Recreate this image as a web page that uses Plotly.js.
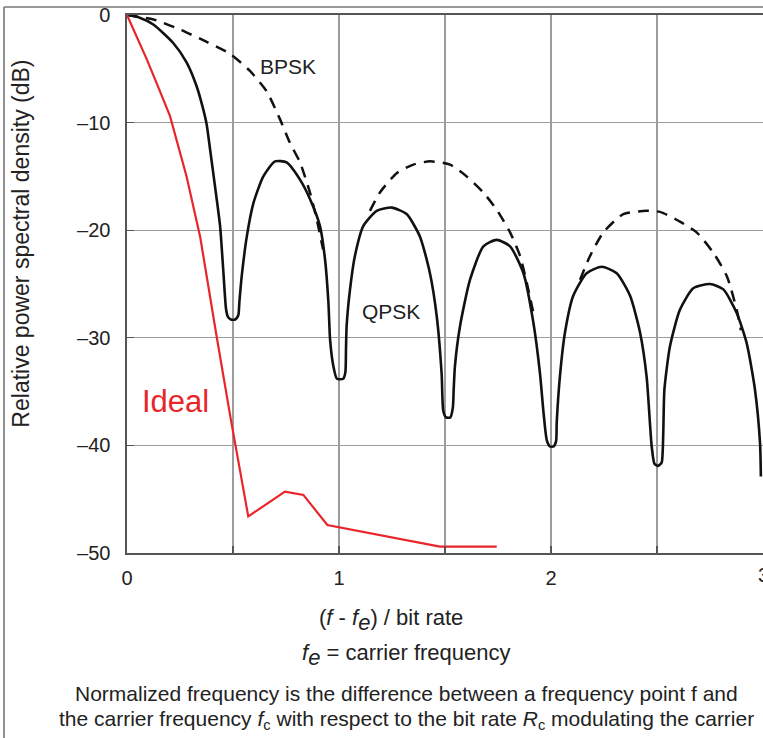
<!DOCTYPE html>
<html>
<head>
<meta charset="utf-8">
<script src="https://cdn.plot.ly/plotly-3.0.1.min.js"></script>
<style>html,body{margin:0;padding:0;background:#fff;}#chart{width:763px;height:738px;}</style>
</head>
<body>
<div id="chart"></div>
<script>
// QPSK spectrum (solid black)
const qpskF = [0,0.06,0.124,0.218,0.281,0.328,0.36,0.376,0.392,0.415,0.439,0.454,0.467,0.475,0.49,0.51,0.525,0.53,0.541,0.565,0.596,0.643,0.698,0.753,0.816,0.863,0.91,0.934,0.95,0.958,0.973,0.99,1.02,1.03,1.033,1.036,1.052,1.075,1.115,1.178,1.249,1.319,1.382,1.429,1.461,1.484,1.492,1.505,1.525,1.537,1.541,1.547,1.571,1.618,1.681,1.744,1.807,1.87,1.917,1.948,1.965,1.98,1.995,2.012,2.024,2.027,2.042,2.066,2.105,2.168,2.239,2.31,2.373,2.42,2.451,2.475,2.488,2.505,2.522,2.527,2.53,2.535,2.561,2.608,2.671,2.75,2.813,2.876,2.923,2.962,2.986,2.99];
const qpskDb = [0,-0.25,-0.88,-2.6,-4.4,-6.6,-8.8,-10.2,-12.5,-15.9,-19.6,-23.7,-27.3,-28.0,-28.3,-28.3,-27.9,-26.7,-24.3,-20.6,-17.5,-15.0,-13.6,-13.7,-15.3,-17.1,-19.6,-22.7,-26.7,-30.2,-32.6,-33.8,-33.8,-33.2,-31.0,-28.9,-25.5,-22.4,-19.6,-18.2,-17.9,-18.5,-20.6,-24.0,-28.0,-33.3,-36.8,-37.4,-37.4,-36.5,-34.8,-32.6,-28.9,-24.6,-21.5,-20.9,-21.5,-24.0,-28.6,-33.3,-37.0,-39.5,-40.1,-40.1,-39.6,-37.9,-33.6,-29.5,-26.1,-24.0,-23.4,-24.0,-26.1,-29.5,-33.6,-40.1,-41.7,-41.9,-41.6,-40.5,-38.5,-34.8,-30.8,-27.4,-25.4,-25.0,-25.5,-27.7,-30.5,-34.8,-39.8,-42.9];

// BPSK spectrum (dashed, visible segments only)
const bpskF = [0,0.125,0.25,0.376,0.486,0.58,0.659,0.722,0.769,0.816,0.863,0.895,0.925,null,
  1.146,1.193,1.272,1.351,1.429,1.524,1.602,1.681,1.744,1.807,1.854,1.886,1.917,null,
  2.137,2.184,2.247,2.341,2.451,2.514,2.608,2.687,2.766,2.83,2.876,2.896];
const bpskDb = [0,-0.42,-1.35,-2.5,-3.6,-5.2,-7.1,-9.7,-11.9,-13.7,-16.5,-19.0,-21.8,null,
  -18.2,-16.5,-14.7,-13.9,-13.6,-13.9,-15.0,-16.5,-18.1,-20.2,-22.4,-24.9,-27.7,null,
  -24.6,-22.4,-20.2,-18.5,-18.2,-18.3,-19.2,-20.2,-22.1,-24.3,-27.4,-29.3];

// Ideal spectrum (red)
const idealF = [0,0.093,0.16,0.203,0.281,0.345,0.423,0.49,0.572,0.745,0.832,0.945,1.476,1.744];
const idealDb = [0,-4.1,-7.3,-9.4,-15.0,-20.6,-29.9,-37.6,-46.6,-44.3,-44.6,-47.4,-49.4,-49.4];

const yTickVals = [0,-10,-20,-30,-40,-50];
const yTickText = ['0','\u201310','\u201320','\u201330','\u201340','\u201350'];
const xTickVals = [0,1,2];
const xTickText = ['0','1','2'];
const xLastTick = '3';

const FONT = 'Liberation Sans, Arial, Helvetica, sans-serif';
const RED = '#e8262a';
const INK = '#222';

const traces = [
  {x: bpskF, y: bpskDb, mode: 'lines', connectgaps: false,
   line: {color: '#111', width: 2.5, dash: '11px,8px', shape: 'spline', smoothing: 0.6}, hoverinfo: 'skip'},
  {x: qpskF, y: qpskDb, mode: 'lines',
   line: {color: '#111', width: 2.6, shape: 'spline', smoothing: 0.6}, hoverinfo: 'skip'},
  {x: idealF, y: idealDb, mode: 'lines',
   line: {color: RED, width: 2.2}, hoverinfo: 'skip'}
];

function ann(x, y, text, size, extra) {
  return Object.assign({x: x, y: y, xref: 'paper', yref: 'paper', text: text, showarrow: false,
    xanchor: 'center', yanchor: 'middle', font: {size: size, family: FONT, color: INK}}, extra || {});
}

const layout = {
  width: 763, height: 738,
  margin: {l: 127, r: 0, t: 15, b: 185},
  paper_bgcolor: '#fff', plot_bgcolor: '#fff',
  showlegend: false,
  font: {family: FONT, color: INK, size: 20},
  xaxis: {
    range: [0, 3], tickvals: xTickVals, ticktext: xTickText,
    showgrid: true, gridcolor: '#9c9c9c', gridwidth: 1.3,
    minor: {dtick: 0.5, tick0: 0, showgrid: true, gridcolor: '#9c9c9c', gridwidth: 1.3,
            ticks: 'inside', ticklen: 7, tickcolor: '#555', tickwidth: 1.3},
    showline: true, linecolor: '#555', linewidth: 1.6, mirror: true,
    ticks: 'inside', ticklen: 7, tickcolor: '#555', tickwidth: 1.3,
    ticklabelstandoff: 6,
    zeroline: false, tickfont: {size: 20, family: FONT, color: INK},
    fixedrange: true
  },
  yaxis: {
    range: [-50, 0], tickvals: yTickVals, ticktext: yTickText,
    showgrid: true, gridcolor: '#9c9c9c', gridwidth: 1.3,
    showline: true, linecolor: '#555', linewidth: 1.6,
    ticks: 'inside', ticklen: 7, tickcolor: '#555', tickwidth: 1.3,
    ticklabelstandoff: 11,
    zeroline: false, tickfont: {size: 20, family: FONT, color: INK},
    fixedrange: true
  },
  shapes: [
    {type: 'line', xref: 'paper', yref: 'paper', x0: -0.1934, x1: 1.01, y0: 1.0149, y1: 1.0149,
     line: {color: '#777', width: 1.6}},
    {type: 'line', xref: 'paper', yref: 'paper', x0: -0.1934, x1: -0.1934, y0: 1.0149, y1: -0.36,
     line: {color: '#777', width: 1.6}}
  ],
  annotations: [
    {x: 0.759, y: -4.8, xref: 'x', yref: 'y', text: 'BPSK', showarrow: false,
     font: {size: 21, family: FONT, color: INK}},
    {x: 1.245, y: -27.6, xref: 'x', yref: 'y', text: 'QPSK', showarrow: false,
     font: {size: 21, family: FONT, color: INK}},
    {x: 0.231, y: -35.9, xref: 'x', yref: 'y', text: 'Ideal', showarrow: false,
     font: {size: 31, family: FONT, color: RED}},
    ann(1.0, -0.0409, xLastTick, 20),
    ann(-0.1667, 0.575, 'Relative power spectral density (dB)', 23, {textangle: -90}),
    ann(0.415, -0.1245, '(<i>f</i> - <i>f</i><sub><span style="font-size:22px"><i>e</i></span></sub>) / bit rate', 22),
    ann(0.439, -0.19, '<i>f</i><sub><span style="font-size:22px"><i>e</i></span></sub> = carrier frequency', 22),
    ann(0.44, -0.262, 'Normalized frequency is the difference between a frequency point f and', 21),
    ann(0.44, -0.31, 'the carrier frequency <i>f</i><sub>c</sub> with respect to the bit rate <i>R</i><sub>c</sub> modulating the carrier', 21)
  ]
};

Plotly.newPlot('chart', traces, layout, {staticPlot: true, displayModeBar: false});
</script>
</body>
</html>
